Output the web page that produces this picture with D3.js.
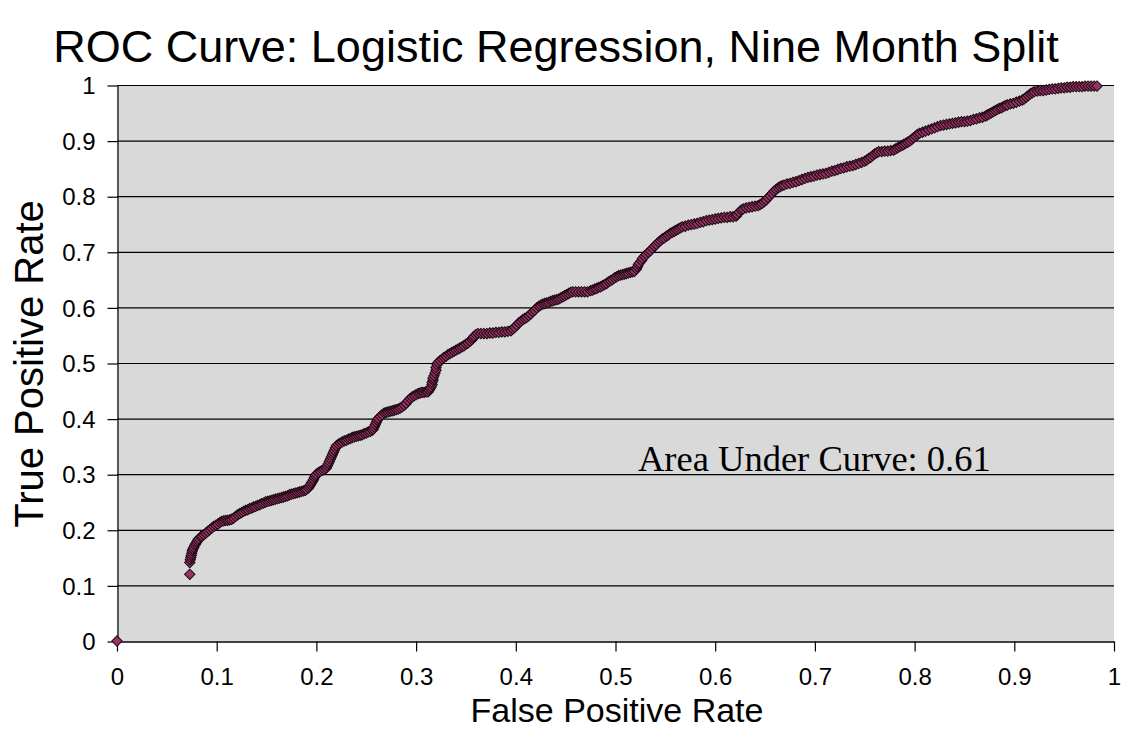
<!DOCTYPE html>
<html><head><meta charset="utf-8">
<script src="https://cdn.jsdelivr.net/npm/d3@7"></script>
<style>
html,body{margin:0;padding:0;background:#fff;}
svg{display:block;}
</style></head>
<body>
<svg id="chart" width="1122" height="732"></svg>
<script>
const titleText = "ROC Curve: Logistic Regression, Nine Month Split";
const xLabel = "False Positive Rate";
const yLabel = "True Positive Rate";
const annotation = "Area Under Curve: 0.61";
const xTicks = [0,0.1,0.2,0.3,0.4,0.5,0.6,0.7,0.8,0.9,1];
const yTicks = [0,0.1,0.2,0.3,0.4,0.5,0.6,0.7,0.8,0.9,1];
const tickLabels = ["0","0.1","0.2","0.3","0.4","0.5","0.6","0.7","0.8","0.9","1"];

// ROC points: [false positive rate, true positive rate]
const rocPoints = [
[0,0],[0.073,0.120],
[0.073,0.141],[0.0735,0.146],[0.074,0.150],[0.0745,0.154],[0.075,0.158],[0.0755,0.162],[0.076,0.165],[0.077,0.168],[0.078,0.172],[0.079,0.175],[0.080,0.178],[0.081,0.181],[0.082,0.184],[0.084,0.187],[0.085,0.189],[0.087,0.191],[0.089,0.194],[0.091,0.197],[0.093,0.200],[0.095,0.203],[0.097,0.206],[0.099,0.208],[0.101,0.210],[0.103,0.213],[0.105,0.215],[0.107,0.216],[0.109,0.217],[0.111,0.217],[0.113,0.218],[0.115,0.219],[0.117,0.221],[0.119,0.224],[0.121,0.227],[0.123,0.229],
[0.125,0.231],[0.127,0.233],[0.129,0.235],[0.131,0.236],[0.133,0.238],[0.135,0.239],[0.137,0.241],[0.139,0.242],[0.141,0.244],[0.143,0.245],[0.145,0.247],[0.147,0.248],[0.149,0.250],[0.151,0.251],[0.153,0.252],[0.155,0.253],[0.157,0.254],[0.159,0.255],[0.161,0.256],[0.163,0.257],[0.165,0.258],[0.167,0.259],[0.169,0.260],[0.171,0.261],[0.173,0.263],[0.175,0.264],[0.177,0.265],[0.179,0.266],[0.181,0.267],[0.183,0.268],[0.185,0.269],[0.187,0.270],[0.189,0.271],[0.190,0.273],
[0.192,0.275],[0.193,0.278],[0.194,0.281],[0.195,0.284],[0.196,0.287],[0.197,0.290],[0.198,0.294],[0.199,0.297],[0.200,0.300],[0.202,0.303],[0.204,0.305],[0.206,0.307],[0.208,0.309],[0.210,0.311],[0.211,0.315],[0.212,0.319],[0.213,0.323],[0.214,0.327],[0.215,0.331],[0.216,0.335],[0.217,0.339],[0.218,0.343],[0.219,0.347],[0.220,0.351],[0.222,0.354],[0.224,0.356],[0.226,0.358],
[0.228,0.360],[0.230,0.361],[0.232,0.363],[0.234,0.364],[0.236,0.366],[0.238,0.367],[0.240,0.368],[0.242,0.369],[0.244,0.370],[0.246,0.371],[0.248,0.373],[0.250,0.374],[0.252,0.376],[0.254,0.377],[0.256,0.379],[0.257,0.381],
[0.258,0.385],[0.259,0.389],[0.260,0.393],[0.261,0.397],[0.262,0.400],[0.264,0.404],[0.266,0.407],[0.268,0.410],
[0.270,0.411],[0.272,0.412],[0.274,0.413],[0.276,0.414],[0.278,0.415],[0.280,0.416],[0.282,0.417],[0.284,0.419],[0.286,0.421],[0.288,0.424],[0.290,0.427],[0.292,0.432],[0.294,0.436],[0.296,0.439],[0.298,0.441],[0.300,0.443],[0.302,0.445],[0.304,0.446],[0.306,0.447],[0.308,0.447],[0.310,0.448],[0.312,0.448],
[0.313,0.451],[0.314,0.454],[0.315,0.457],[0.316,0.461],[0.316,0.465],[0.317,0.469],[0.317,0.473],[0.318,0.477],[0.319,0.482],[0.320,0.487],[0.320,0.492],[0.321,0.497],[0.322,0.501],[0.324,0.504],[0.326,0.507],
[0.328,0.510],[0.330,0.512],[0.332,0.515],[0.334,0.517],[0.336,0.519],[0.338,0.521],[0.340,0.523],[0.342,0.525],[0.344,0.527],[0.346,0.529],[0.348,0.531],[0.350,0.534],[0.352,0.536],[0.354,0.539],[0.356,0.542],[0.357,0.545],[0.358,0.548],[0.360,0.551],
[0.362,0.553],[0.365,0.553],[0.368,0.553],[0.371,0.553],[0.374,0.554],[0.377,0.554],[0.380,0.555],[0.383,0.555],[0.386,0.556],[0.389,0.556],[0.392,0.557],[0.395,0.558],
[0.397,0.561],[0.399,0.564],[0.401,0.568],[0.403,0.572],[0.405,0.575],[0.407,0.578],[0.409,0.580],[0.411,0.582],[0.413,0.585],[0.415,0.588],[0.417,0.592],[0.419,0.595],[0.421,0.599],[0.423,0.602],[0.425,0.604],[0.427,0.606],[0.429,0.607],
[0.431,0.608],[0.433,0.609],[0.435,0.611],[0.437,0.612],[0.439,0.613],[0.441,0.614],[0.443,0.615],[0.445,0.617],[0.447,0.619],[0.449,0.621],[0.451,0.623],[0.453,0.625],[0.455,0.627],[0.457,0.628],[0.460,0.628],[0.463,0.628],[0.466,0.628],[0.469,0.628],[0.472,0.628],[0.475,0.630],
[0.477,0.631],[0.479,0.633],[0.481,0.634],[0.483,0.636],[0.485,0.637],[0.487,0.639],[0.489,0.641],[0.491,0.643],[0.493,0.646],[0.495,0.648],[0.497,0.650],[0.499,0.653],[0.501,0.655],[0.503,0.657],[0.505,0.658],[0.507,0.659],[0.509,0.660],[0.511,0.661],[0.513,0.662],[0.515,0.663],[0.517,0.664],[0.519,0.665],
[0.521,0.669],[0.522,0.673],[0.523,0.677],[0.524,0.680],[0.526,0.684],[0.527,0.688],[0.529,0.692],[0.531,0.695],[0.533,0.699],[0.535,0.702],[0.537,0.706],[0.539,0.710],[0.541,0.713],[0.543,0.717],[0.545,0.720],[0.547,0.723],[0.549,0.725],[0.551,0.728],[0.553,0.730],[0.555,0.733],[0.557,0.735],[0.559,0.737],[0.561,0.739],[0.563,0.741],[0.565,0.743],[0.567,0.745],
[0.570,0.746],[0.573,0.748],[0.576,0.749],[0.579,0.750],[0.582,0.751],[0.585,0.753],[0.588,0.754],[0.591,0.756],[0.594,0.757],[0.597,0.758],[0.600,0.759],[0.603,0.760],[0.606,0.761],[0.609,0.762],[0.612,0.762],[0.615,0.763],[0.618,0.763],[0.621,0.764],
[0.622,0.767],[0.624,0.771],[0.626,0.775],[0.628,0.777],[0.631,0.779],[0.634,0.780],[0.637,0.781],[0.640,0.782],[0.643,0.783],[0.645,0.785],[0.647,0.787],[0.649,0.790],[0.651,0.793],[0.653,0.797],[0.655,0.801],[0.657,0.805],[0.659,0.809],[0.661,0.812],[0.663,0.815],[0.665,0.817],[0.667,0.819],[0.669,0.820],
[0.672,0.822],[0.675,0.823],[0.678,0.825],[0.681,0.826],[0.684,0.828],[0.687,0.830],[0.690,0.832],[0.693,0.834],[0.696,0.835],[0.699,0.836],[0.702,0.838],[0.705,0.839],[0.708,0.840],[0.711,0.841],[0.714,0.843],[0.717,0.845],[0.720,0.846],[0.723,0.848],[0.726,0.850],[0.729,0.851],[0.732,0.853],[0.735,0.854],[0.738,0.855],[0.741,0.857],[0.744,0.859],[0.747,0.861],[0.750,0.863],[0.752,0.865],[0.754,0.868],[0.756,0.870],[0.758,0.873],[0.760,0.876],[0.762,0.878],[0.764,0.880],[0.767,0.880],[0.770,0.881],[0.773,0.881],[0.776,0.882],[0.779,0.883],
[0.781,0.885],[0.783,0.887],[0.785,0.889],[0.787,0.891],[0.789,0.893],[0.791,0.895],[0.793,0.897],[0.795,0.899],[0.797,0.902],[0.799,0.905],[0.801,0.908],[0.803,0.911],[0.805,0.913],[0.808,0.915],[0.811,0.917],[0.814,0.919],[0.817,0.921],[0.820,0.923],[0.823,0.925],[0.826,0.927],[0.829,0.928],[0.832,0.929],[0.835,0.930],[0.838,0.931],[0.841,0.932],[0.844,0.933],[0.847,0.934],[0.850,0.934],[0.853,0.935],[0.856,0.936],[0.859,0.938],[0.862,0.939],[0.865,0.941],[0.868,0.942],
[0.871,0.944],[0.873,0.946],[0.875,0.948],[0.877,0.950],[0.879,0.952],[0.881,0.954],[0.883,0.956],[0.885,0.958],[0.887,0.959],[0.889,0.961],[0.891,0.963],[0.893,0.964],[0.896,0.966],[0.899,0.967],[0.902,0.969],[0.905,0.971],[0.908,0.973],[0.910,0.975],[0.912,0.978],[0.914,0.981],[0.916,0.984],[0.918,0.986],[0.920,0.988],[0.923,0.989],[0.926,0.990],[0.929,0.990],[0.932,0.991],[0.935,0.992],[0.938,0.993],[0.941,0.993],[0.944,0.994],[0.947,0.995],[0.950,0.995],[0.953,0.996],[0.956,0.996],[0.959,0.997],[0.962,0.997],[0.965,0.997],[0.968,0.997],[0.971,0.998],[0.974,0.998],[0.977,0.998],[0.980,0.998],[0.983,0.998]
];

const svg = d3.select("#chart");
const mLeft = 117, mRight = 1114, mTop = 85, mBottom = 641;
const x = d3.scaleLinear().domain([0,1]).range([mLeft,mRight]);
const y = d3.scaleLinear().domain([0,1]).range([mBottom,mTop]);
const sans = "Liberation Sans, Arial, sans-serif";

// plot background
svg.append("rect").attr("x",mLeft).attr("y",mTop).attr("width",mRight-mLeft).attr("height",mBottom-mTop).attr("fill","#d9d9d9");

// gridlines
svg.append("g").selectAll("line").data(yTicks.filter(d=>d>0)).join("line")
  .attr("x1",mLeft).attr("x2",mRight).attr("y1",d=>y(d)+0.5).attr("y2",d=>y(d)+0.5)
  .attr("stroke","#000").attr("stroke-width",1.2);

// y axis
const yAxis = svg.append("g").attr("transform",`translate(${mLeft+0.5},0)`)
  .call(d3.axisLeft(y).tickValues(yTicks).tickSize(10).tickSizeOuter(0).tickPadding(12).tickFormat((d,i)=>tickLabels[i]));
yAxis.select(".domain").attr("stroke","#000").attr("stroke-width",1.2);
yAxis.selectAll(".tick line").attr("stroke","#000").attr("stroke-width",1.2).attr("transform","translate(0,0.5)");
yAxis.selectAll("text").attr("font-family",sans).attr("font-size",24).attr("fill","#000").attr("dy","0.36em");

// x axis
const xAxis = svg.append("g").attr("transform",`translate(0,${mBottom+0.5})`)
  .call(d3.axisBottom(x).tickValues(xTicks).tickSize(10).tickSizeOuter(0).tickPadding(16).tickFormat((d,i)=>tickLabels[i]));
xAxis.select(".domain").attr("stroke","#000").attr("stroke-width",1.5);
xAxis.selectAll(".tick line").attr("stroke","#000").attr("stroke-width",1.2);
xAxis.selectAll("text").attr("font-family",sans).attr("font-size",24).attr("fill","#000");

// points (diamond markers)
svg.append("g").selectAll("path").data(rocPoints).join("path")
  .attr("d", d3.symbol().type(d3.symbolSquare).size(54))
  .attr("transform",d=>`translate(${x(d[0])},${y(d[1])}) rotate(45)`)
  .attr("fill","#993366").attr("stroke","#1c0a13").attr("stroke-width",1);

// title
svg.append("text").attr("x",556).attr("y",62).attr("text-anchor","middle")
  .attr("font-family",sans).attr("font-size",45).attr("fill","#000").text(titleText);

// axis labels
svg.append("text").attr("x",617).attr("y",722).attr("text-anchor","middle")
  .attr("font-family",sans).attr("font-size",34).attr("fill","#000").text(xLabel);
svg.append("text").attr("transform","translate(43,364) rotate(-90)").attr("text-anchor","middle")
  .attr("font-family",sans).attr("font-size",40).attr("fill","#000").text(yLabel);

// annotation
svg.append("text").attr("x",638).attr("y",471)
  .attr("font-family","Liberation Serif, Times New Roman, serif").attr("font-size",36.5).attr("fill","#000").text(annotation);
</script>
</body></html>
